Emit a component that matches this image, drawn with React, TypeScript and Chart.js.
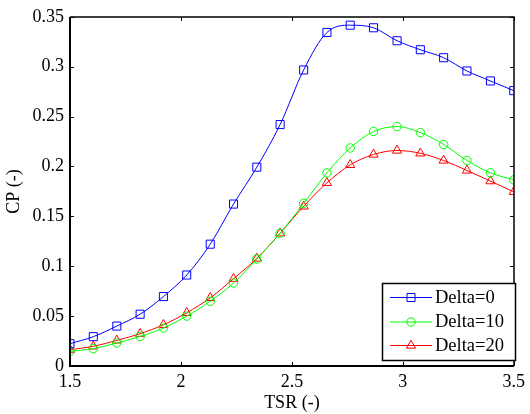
import React, { useEffect, useRef } from "react";
import { Chart, registerables } from "chart.js";

Chart.register(...registerables);

const tsr = [1.5, 1.605, 1.711, 1.816, 1.921, 2.026, 2.132, 2.237, 2.342, 2.447, 2.553, 2.658, 2.763, 2.868, 2.974, 3.079, 3.184, 3.289, 3.395, 3.5];
const cpDelta0 = [0.0224, 0.0294, 0.040, 0.0519, 0.0696, 0.0912, 0.1221, 0.1623, 0.1993, 0.242, 0.2967, 0.3343, 0.3416, 0.339, 0.326, 0.317, 0.309, 0.2957, 0.2857, 0.276];
const cpDelta10 = [0.0147, 0.0174, 0.023, 0.0297, 0.038, 0.050, 0.0649, 0.0832, 0.1072, 0.133, 0.163, 0.1936, 0.2185, 0.235, 0.240, 0.234, 0.222, 0.206, 0.1936, 0.1866];
const cpDelta20 = [0.0164, 0.0197, 0.0257, 0.0324, 0.0413, 0.0533, 0.0683, 0.0875, 0.1078, 0.133, 0.160, 0.1836, 0.2016, 0.212, 0.216, 0.2132, 0.206, 0.196, 0.1853, 0.1746];
const seriesLabels = ["Delta=0", "Delta=10", "Delta=20"];
const xTicks = [1.5, 2, 2.5, 3, 3.5];
const yTicks = [0, 0.05, 0.1, 0.15, 0.2, 0.25, 0.3, 0.35];

const FONT = '"Liberation Serif", "Times New Roman", serif';

function drawMarker(ctx: CanvasRenderingContext2D, style: string, x: number, y: number, r: number, color: string) {
  ctx.save();
  ctx.strokeStyle = color;
  ctx.lineWidth = 1;
  ctx.beginPath();
  if (style === "rect") {
    const s = Math.SQRT1_2 * r;
    ctx.rect(x - s, y - s, 2 * s, 2 * s);
  } else if (style === "circle") {
    ctx.arc(x, y, r, 0, Math.PI * 2);
  } else {
    ctx.moveTo(x, y - r);
    ctx.lineTo(x + r * Math.sin(Math.PI / 3), y + r * 0.5);
    ctx.lineTo(x - r * Math.sin(Math.PI / 3), y + r * 0.5);
    ctx.closePath();
  }
  ctx.stroke();
  ctx.restore();
}

const framePlugin = {
  id: "frame",
  afterDraw(chart: any) {
    const { ctx, chartArea: a, scales } = chart;
    ctx.save();
    ctx.strokeStyle = "#000";
    const L = Math.round(a.left), R = Math.round(a.right);
    const T = Math.round(a.top), B = Math.round(a.bottom);
    // left and bottom axes (heavier), top and right (lighter)
    ctx.lineWidth = 2;
    ctx.beginPath();
    ctx.moveTo(L, T); ctx.lineTo(L, B); ctx.lineTo(R, B);
    ctx.stroke();
    ctx.lineWidth = 1.5;
    ctx.beginPath();
    ctx.moveTo(L, T); ctx.lineTo(R, T); ctx.lineTo(R, B);
    ctx.stroke();
    const tl = 4;
    ctx.lineWidth = 1;
    ctx.beginPath();
    xTicks.forEach((v) => {
      const x = Math.round(scales.x.getPixelForValue(v)) + 0.5;
      ctx.moveTo(x, B); ctx.lineTo(x, B - tl);
      ctx.moveTo(x, T); ctx.lineTo(x, T + tl);
    });
    yTicks.forEach((v) => {
      const y = Math.round(scales.y.getPixelForValue(v)) + 0.5;
      ctx.moveTo(L, y); ctx.lineTo(L + tl, y);
      ctx.moveTo(R, y); ctx.lineTo(R - tl, y);
    });
    ctx.stroke();

    // legend
    const bx = 382.5, by = 283.5, bw = 133, bh = 77;
    ctx.fillStyle = "#fff";
    ctx.fillRect(bx, by, bw, bh);
    ctx.lineWidth = 1.5;
    ctx.strokeRect(bx, by, bw, bh);
    const rows = [297, 321.5, 345];
    chart.data.datasets.forEach((ds: any, i: number) => {
      const y = rows[i];
      ctx.strokeStyle = ds.borderColor;
      ctx.lineWidth = 1;
      ctx.beginPath();
      ctx.moveTo(390, y + 0.5);
      ctx.lineTo(432, y + 0.5);
      ctx.stroke();
      drawMarker(ctx, ds.pointStyle, 411, y + 0.5, ds.pointRadius, ds.borderColor);
      ctx.fillStyle = "#000";
      ctx.font = `18.5px ${FONT}`;
      ctx.textBaseline = "middle";
      ctx.textAlign = "left";
      ctx.fillText(ds.label, 435, y + 1);
    });
    ctx.restore();
  },
};

export default function App() {
  const ref = useRef<HTMLCanvasElement>(null);
  useEffect(() => {
    const mk = (label: string, data: number[], color: string, style: string, r: number) => ({
      label,
      data: tsr.map((x, i) => ({ x, y: data[i] })),
      borderColor: color,
      backgroundColor: "rgba(0,0,0,0)",
      borderWidth: 1,
      pointStyle: style,
      pointRadius: r,
      pointBorderWidth: 1,
      pointBorderColor: color,
      pointBackgroundColor: "rgba(0,0,0,0)",
      cubicInterpolationMode: "monotone",
      fill: false,
    });
    const chart = new Chart(ref.current!, {
      type: "line",
      data: {
        datasets: [
          mk(seriesLabels[0], cpDelta0, "#0000ff", "rect", 5.7),
          mk(seriesLabels[1], cpDelta10, "#00ff00", "circle", 4.2),
          mk(seriesLabels[2], cpDelta20, "#ff0000", "triangle", 5.3),
        ] as any,
      },
      options: {
        animation: false,
        responsive: false,
        layout: { padding: { top: 15, right: 13, left: 0, bottom: 0 } },
        plugins: { legend: { display: false }, tooltip: { enabled: false } },
        scales: {
          x: {
            type: "linear",
            min: 1.5,
            max: 3.5,
            grid: { display: false, drawTicks: false },
            border: { display: false },
            afterBuildTicks: (s: any) => { s.ticks = xTicks.map((v) => ({ value: v })); },
            afterFit: (s: any) => { s.height = 48; },
            ticks: {
              color: "#000",
              padding: 5,
              maxRotation: 0,
              font: { family: FONT, size: 18 },
              callback: (v: any) => String(v),
            },
            title: { display: true, text: "TSR (-)", color: "#000", font: { family: FONT, size: 18 }, padding: 0 },
          },
          y: {
            type: "linear",
            min: 0,
            max: 0.35,
            grid: { display: false, drawTicks: false },
            border: { display: false },
            afterBuildTicks: (s: any) => { s.ticks = yTicks.map((v) => ({ value: v })); },
            afterFit: (s: any) => { s.width = 70; },
            ticks: {
              color: "#000",
              padding: 6,
              font: { family: FONT, size: 18 },
              callback: (v: any) => String(Math.round(v * 100) / 100),
            },
            title: { display: true, text: "CP (-)", color: "#000", font: { family: FONT, size: 18 }, padding: 3 },
          },
        },
      },
      plugins: [framePlugin],
    } as any);
    return () => chart.destroy();
  }, []);
  return (
    <div style={{ position: "fixed", left: 0, top: 0, width: 530, height: 414, background: "#fff" }}>
      <canvas ref={ref} width={530} height={414} />
    </div>
  );
}
